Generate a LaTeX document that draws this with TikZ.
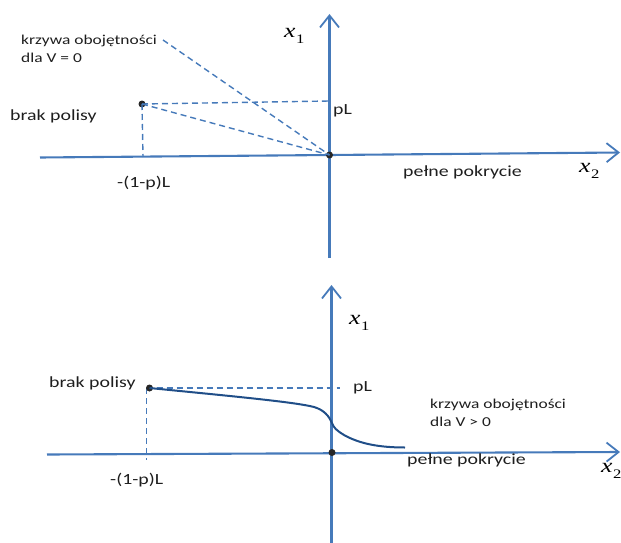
\documentclass[tikz,border=0pt]{standalone}
\usepackage{fontspec}
\setmainfont[FakeStretch=1.28]{Carlito}
\newfontfamily\varfont[FakeStretch=1.28,ItalicFont={Liberation Serif Italic}]{Liberation Serif}
\usetikzlibrary{arrows.meta}
\definecolor{axisblue}{RGB}{70,122,186}
\definecolor{curveblue}{RGB}{32,78,136}
\definecolor{ink}{RGB}{30,30,30}
\newcommand{\axvar}[1]{{\varfont\itshape x\kern0.5pt\raisebox{-0.3em}{\upshape\fontsize{13}{13}\selectfont #1}}}
\tikzset{
  axis/.style={draw=axisblue, line width=2.1pt,
    -{Straight Barb[length=12pt,width=19pt,line width=1.8pt]}},
  guide/.style={draw=axisblue, line width=1.4pt, dash pattern=on 6pt off 4pt},
  curve/.style={draw=curveblue, line width=2pt},
  lbl/.style={text=ink, font=\fontsize{15.5}{17}\selectfont, inner sep=0pt, anchor=west},
  note/.style={text=ink, font=\fontsize{13.6}{18}\selectfont, inner sep=0pt, anchor=west, align=left},
  var/.style={text=black, font=\fontsize{20}{20}\selectfont, inner sep=0pt, anchor=west},
  dot/.style={circle, fill=black!85, inner sep=0pt, minimum size=7pt}
}
\begin{document}
\begin{tikzpicture}[x=1pt,y=-1pt]
\useasboundingbox (0,0) rectangle (621,543);

% ---------- upper panel: V = 0 ----------
\coordinate (yb1) at (329.5,258);
\coordinate (yt1) at (329.5,14);
\coordinate (xl1) at (40,157.5);
\coordinate (xr1) at (620,152.5);
\coordinate (pL1) at (329.5,101);
\coordinate (foot1) at (143,157);
\coordinate (kend1) at (163,40);
\draw[axis] (yb1) -- (yt1);
\draw[axis] (xl1) -- (xr1);
\node[dot] (O1) at (329.5,155) {};
\node[dot] (B1) at (142,104) {};
\draw[guide] (B1.center) -- (pL1);
\draw[guide] (B1.center) -- (foot1);
\draw[guide] (B1.center) -- (O1.center);
\draw[guide] (kend1) -- (O1.center);

\node[note] (k1) at (21,48.5) {krzywa obojętności\\dla V = 0};
\node[lbl] (brak1) at (10,116) {brak polisy};
\node[lbl] (pl1) at (333,111) {pL};
\node[lbl] (m1) at (117,183) {-(1-p)L};
\node[lbl] (full1) at (403,172) {pełne pokrycie};
\node[var] (x1a) at (284,36) {\axvar{1}};
\node[var] (x2a) at (579,171) {\axvar{2}};

% ---------- lower panel: V > 0 ----------
\coordinate (yb2) at (331.5,545);
\coordinate (yt2) at (331.5,285);
\coordinate (xl2) at (47,454.5);
\coordinate (xr2) at (620,452);
\coordinate (pL2) at (340,388);
\coordinate (top2) at (146.5,388);
\coordinate (foot2) at (146.5,460);
\coordinate (tail2) at (405,447.5);
\draw[axis] (yb2) -- (yt2);
\draw[draw=axisblue, line width=3.2pt] (331.5,308) -- (331.5,347);
\draw[axis] (xl2) -- (xr2);
\draw[guide] (top2) -- (pL2);
\draw[guide] (top2) -- (foot2);
\node[dot] (O2) at (332,452.5) {};
\node[dot] (B2) at (149.5,388) {};
\draw[curve] (B2.center)
  .. controls (230,396) and (295,402) .. (314,407)
  .. controls (324,410) and (329,416) .. (332,423)
  .. controls (334,428) and (336,430) .. (344,435)
  .. controls (360,444) and (380,447.5) .. (tail2);

\node[lbl] (brak2) at (49,383) {brak polisy};
\node[lbl] (m2) at (110,480) {-(1-p)L};
\node[lbl] (pl2) at (353,388) {pL};
\node[note] (k2) at (430,413) {krzywa obojętności\\dla V > 0};
\node[lbl] (full2) at (407,460) {pełne pokrycie};
\node[var] (x1b) at (349,323) {\axvar{1}};
\node[var] (x2b) at (601,471) {\axvar{2}};
\end{tikzpicture}
\end{document}
